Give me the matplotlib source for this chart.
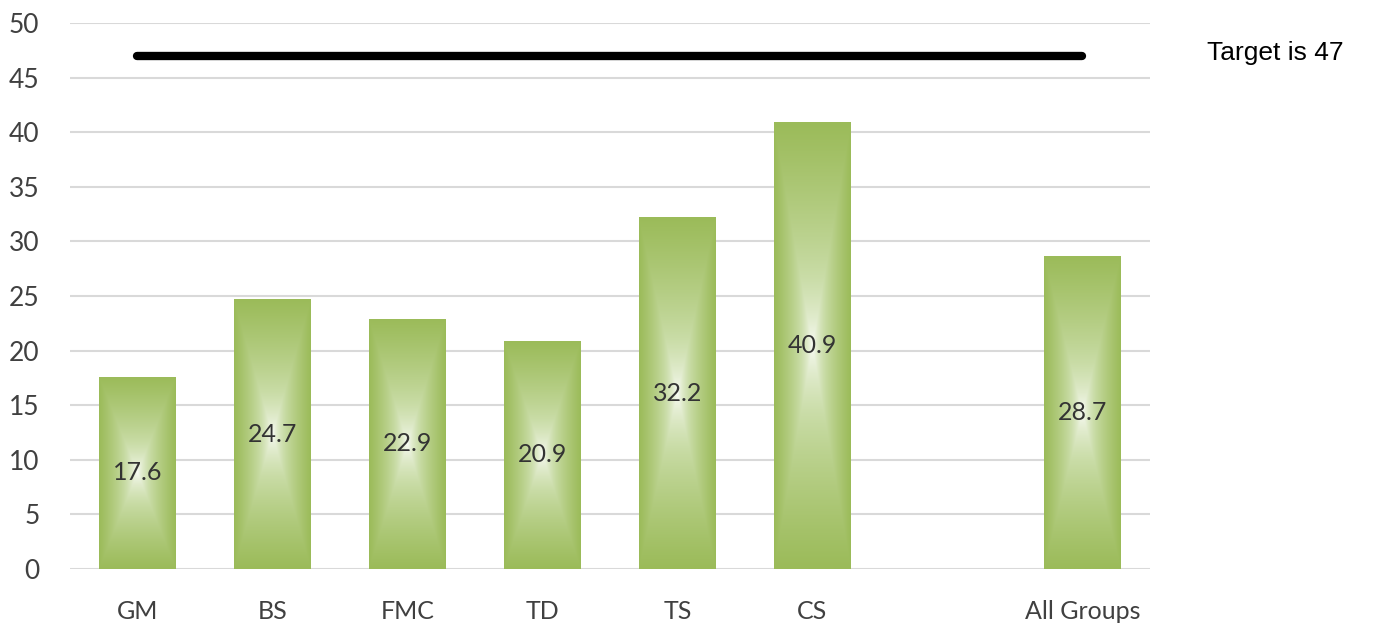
import numpy as np
import matplotlib
matplotlib.use("Agg")
import matplotlib.pyplot as plt
from matplotlib.colors import LinearSegmentedColormap

# chart data
groups = ['GM', 'BS', 'FMC', 'TD', 'TS', 'CS', '', 'All Groups']
scores = [17.6, 24.7, 22.9, 20.9, 32.2, 40.9, None, 28.7]
target = 47
yticks = [0, 5, 10, 15, 20, 25, 30, 35, 40, 45, 50]

green = '#9bbb59'
text_col = '#404040'

fig = plt.figure(figsize=(13.91, 6.27), dpi=100)
ax = fig.add_axes([0.0503, 0.0925, 0.7764, 0.8708])

x = np.arange(len(groups))
heights = [v if v is not None else 0 for v in scores]
bars = ax.bar(x, heights, width=0.57, color='none', edgecolor='none', zorder=2)

# "from centre" gradient: green at the edges, white in the middle
cmap = LinearSegmentedColormap.from_list('g', ['#ffffff', '#c9dca6', green])
n = 300
u = np.linspace(-1, 1, n)
U, V = np.meshgrid(u, u)
grad = np.maximum(np.abs(U), np.abs(V)) ** 0.6

for b, v in zip(bars, scores):
    if v is None:
        continue
    x0, y0 = b.get_x(), b.get_y()
    w, h = b.get_width(), b.get_height()
    im = ax.imshow(grad, cmap=cmap, vmin=0, vmax=1, aspect='auto',
                   extent=[x0, x0 + w, y0, y0 + h], interpolation='bilinear',
                   zorder=2)
    im.set_clip_path(b)
    ax.text(x0 + w / 2, v / 2, f'{v:.1f}', ha='center', va='center',
            fontsize=18, color='#333333', family='Lato', zorder=3)

# target line from first to last group
ax.plot([x[0], x[-1]], [target, target], color='black', lw=6,
        solid_capstyle='round', zorder=4)
fig.text(0.868, 0.915, f'Target is {target}', fontsize=19,
         family='Liberation Sans', color='black', va='center')

ax.set_xlim(-0.5, len(groups) - 0.5)
ax.set_ylim(0, 50)
ax.set_yticks(yticks)
ax.set_xticks(x)
ax.set_xticklabels(groups)
ax.yaxis.grid(True, color='#d9d9d9', lw=1.5, zorder=0)
ax.set_axisbelow(True)
for s in ax.spines.values():
    s.set_visible(False)
ax.tick_params(length=0, labelcolor=text_col)
ax.tick_params(axis='y', pad=22, labelsize=19)
ax.tick_params(axis='x', pad=22, labelsize=18)
for lab in ax.get_xticklabels() + ax.get_yticklabels():
    lab.set_family('Lato')

fig.savefig('out.png', dpi=100)
